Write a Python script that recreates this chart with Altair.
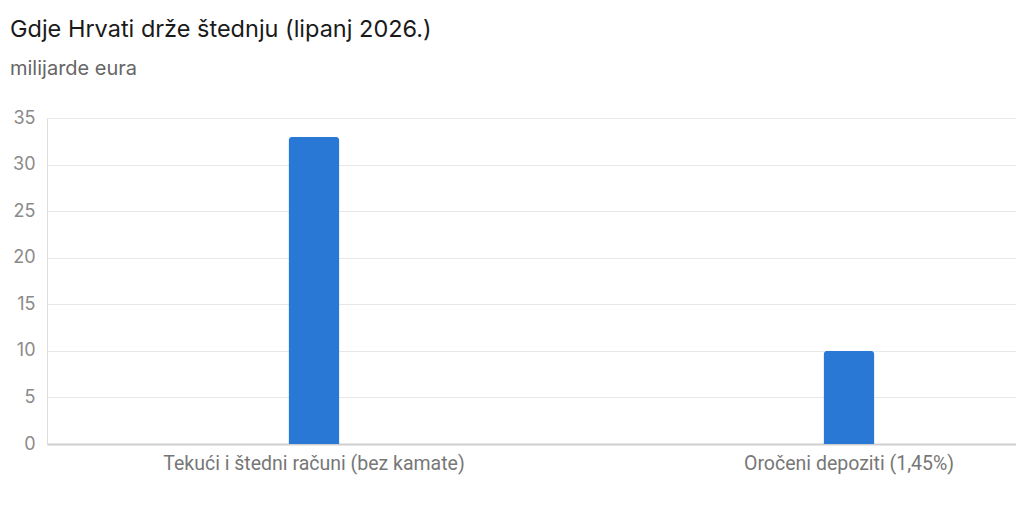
import altair as alt
import pandas as pd

categories = ["Tekući i štedni računi (bez kamate)", "Oročeni depoziti (1,45%)"]
values = [33, 10]
y_ticks = [0, 5, 10, 15, 20, 25, 30, 35]

df = pd.DataFrame({"kategorija": categories, "iznos": values})

chart = (
    alt.Chart(df)
    .mark_bar(size=51, color="#2a78d6", cornerRadiusTopLeft=4, cornerRadiusTopRight=4)
    .encode(
        x=alt.X(
            "kategorija:N",
            sort=categories,
            title=None,
            scale=alt.Scale(paddingInner=0.5, paddingOuter=0.1556, align=0.8003),
            axis=alt.Axis(
                labelAngle=0,
                ticks=False,
                domain=True,
                domainColor="#cfcfcf",
                domainWidth=2,
                labelFont="Roboto",
                labelFontSize=19.5,
                labelLimit=0,
                labelColor="#777777",
                labelPadding=10,
                grid=False,
            ),
        ),
        y=alt.Y(
            "iznos:Q",
            title=None,
            scale=alt.Scale(domain=[0, 35], nice=False),
            axis=alt.Axis(
                values=y_ticks,
                ticks=False,
                domain=False,
                gridColor="#e8e8e8",
                gridWidth=1,
                labelFont="Inter",
                labelFontSize=18,
                labelColor="#8a8a8a",
                labelPadding=12,
            ),
        ),
    )
    .properties(
        width=969,
        height=326,
        autosize=alt.AutoSizeParams(type="none"),
        padding={"left": 39, "top": 110, "right": 0, "bottom": 50},
        title=alt.TitleParams(
            text="Gdje Hrvati drže štednju (lipanj 2026.)",
            subtitle="milijarde eura",
            anchor="start",
            frame="group",
            dx=-37,
            font="Inter",
            fontSize=23.5,
            fontWeight="normal",
            color="#1a1a1a",
            subtitleFont="Inter",
            subtitleFontSize=20,
            subtitleColor="#666666",
            subtitlePadding=18,
            offset=30,
        ),
    )
    .configure_view(stroke=None)
    .configure(background="white")
)

chart.save("out.html", embed_options={"renderer": "svg", "actions": False})
